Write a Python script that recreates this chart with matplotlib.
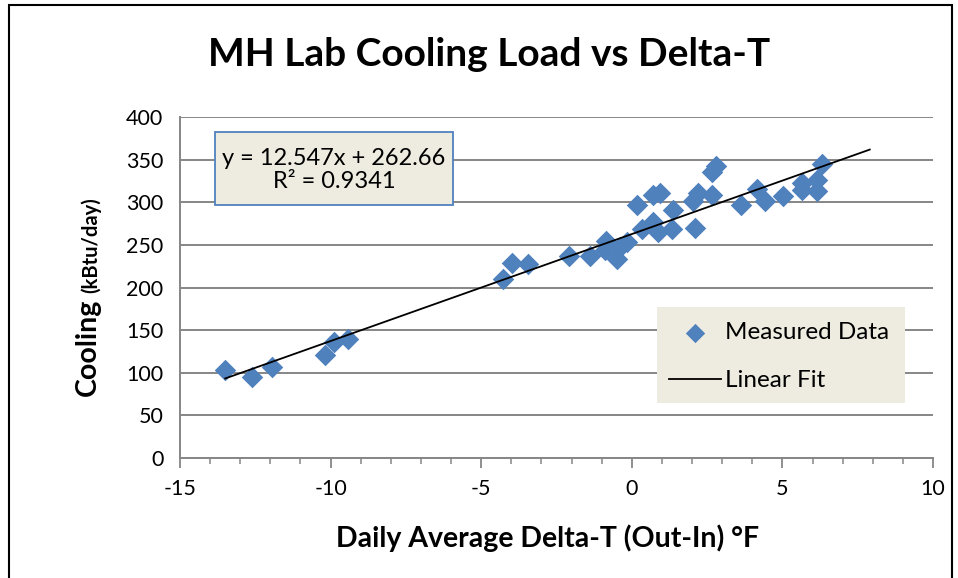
import matplotlib
matplotlib.use("Agg")
import matplotlib.pyplot as plt
from matplotlib.patches import Rectangle
from matplotlib.ticker import MultipleLocator
import numpy as np

plt.rcParams['font.family'] = ['Lato', 'DejaVu Sans']
plt.rcParams['axes.unicode_minus'] = False

# daily average delta-T (out - in), F  and cooling, kBtu/day
delta_t = [-13.5, -12.6, -11.95, -10.2, -9.88, -9.42,
           -4.27, -3.97, -3.45, -2.1,
           -1.39, -0.85, -0.89, -0.5, -0.17, -0.4,
           0.16, 0.33, 0.7, 0.94, 0.72, 0.88,
           1.38, 1.33, 2.1, 2.03, 2.2, 2.65, 2.65, 2.8,
           3.63, 4.15, 4.42, 5.03, 5.64, 5.64, 6.14, 6.16, 6.31]
cooling = [103, 95, 107, 121, 136, 140,
           210, 229, 227, 237,
           237, 255, 244, 234, 253, 247,
           297, 269, 309, 311, 277, 265,
           291, 269, 270, 302, 311, 308, 335, 342,
           297, 315, 302, 307, 323, 314, 326, 313, 345]

slope = 12.547
intercept = 262.66
r_squared = 0.9341
fit_range = [-13.5, 7.9]

blue = '#4F81BD'
grid_gray = '#868686'
beige = '#EEECE1'

fig = plt.figure(figsize=(9.58, 5.78), dpi=100)
ax = fig.add_axes([180/958, 1-458/578, 753/958, 341/578])

ax.scatter(delta_t, cooling, marker='D', s=120, color=blue, linewidths=0,
           zorder=3, label='Measured Data')
xf = np.array(fit_range)
ax.plot(xf, slope*xf + intercept, color='black', lw=1.3, zorder=4,
        label='Linear Fit')

ax.set_xlim(-15, 10)
ax.set_ylim(0, 400)
ax.xaxis.set_major_locator(MultipleLocator(5))
ax.xaxis.set_minor_locator(MultipleLocator(1))
ax.yaxis.set_major_locator(MultipleLocator(50))
ax.grid(axis='y', color=grid_gray, lw=1.4)
ax.set_axisbelow(True)
for s in ['top', 'right']:
    ax.spines[s].set_visible(False)
for s in ['left', 'bottom']:
    ax.spines[s].set_color(grid_gray)
    ax.spines[s].set_linewidth(1.4)
ax.tick_params(axis='x', which='major', length=7, width=1.3, color=grid_gray,
               labelsize=15.5, pad=8)
ax.tick_params(axis='x', which='minor', length=4, width=1.1, color=grid_gray)
ax.tick_params(axis='y', length=0, labelsize=15.5, pad=12)

# equation box
ax.add_patch(Rectangle((215/958, 1-205/578), 238/958, 73/578,
                       transform=fig.transFigure, fc=beige, ec=blue, lw=1.3,
                       zorder=5))
eq = f"y = {slope}x + {intercept}\nR\u00b2 = {r_squared}"
fig.text(334/958, 1-170/578, eq, ha='center', va='center', fontsize=17,
         linespacing=1.1, zorder=6)

# legend box
ax.add_patch(Rectangle((0.633, 0.161), 0.33, 0.282, transform=ax.transAxes,
                       fc=beige, ec='none', zorder=5))
leg = ax.legend(loc='upper left', bbox_to_anchor=(0.621, 0.463), frameon=False,
                fontsize=17.5, handlelength=2.1, handletextpad=0.2,
                labelspacing=1.13, markerscale=0.9)
leg.set_zorder(6)

fig.text(489/958, 1-55/578, "MH Lab Cooling Load vs Delta-T", ha='center',
         va='center', fontsize=28, fontweight='bold')
fig.text(548/958, 1-538/578, "Daily Average Delta-T (Out-In) \u00b0F",
         ha='center', va='center', fontsize=20.5, fontweight='bold')

# y label in two sizes, second part placed right after the first
t1 = fig.text(101/958, 1-396/578, "Cooling", rotation=90, ha='right',
              va='bottom', fontsize=20.5, fontweight='bold')
fig.canvas.draw()
top = t1.get_window_extent().y1 / fig.bbox.height
fig.text(101/958, top + 6/578, "(kBtu/day)", rotation=90, ha='right',
         va='bottom', fontsize=14.5, fontweight='bold')

# outer chart frame
fig.add_artist(Rectangle((9/958, -0.02), 943/958, 1.02-5/578,
                         transform=fig.transFigure, fill=False, ec='black',
                         lw=1.5))

fig.savefig("out.png", dpi=100)
